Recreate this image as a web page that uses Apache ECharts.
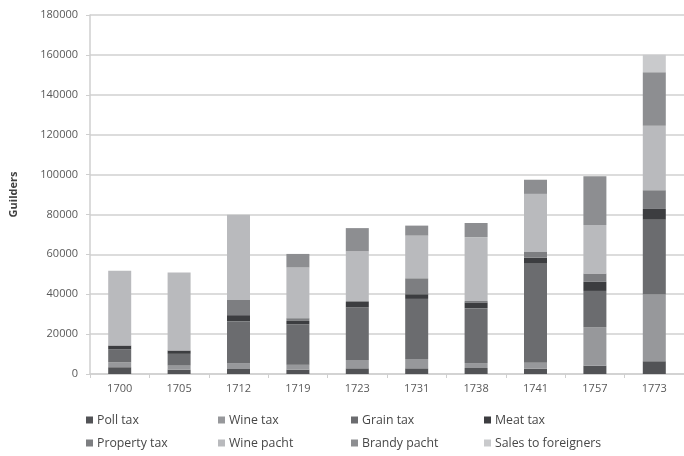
<!DOCTYPE html>
<html>
<head>
<meta charset="utf-8">
<title>Tax revenue by source</title>
<script src="https://cdn.jsdelivr.net/npm/echarts@6/dist/echarts.min.js"></script>
<style>
  html, body { margin: 0; padding: 0; background: #fff; }
  #chart { width: 684px; height: 456px; }
</style>
</head>
<body>
<div id="chart"></div>
<script>
// Years on the category axis
const years = ['1700', '1705', '1712', '1719', '1723', '1731', '1738', '1741', '1757', '1773'];

// Revenue per source, in guilders (stacked bottom to top in this order)
const pollTax      = [3400, 2200, 2500, 2200, 2850, 2850, 3000, 2700, 4200, 6400];
const wineTax      = [2500, 2000, 3000, 2400, 4200, 4700, 2500, 2900, 19300, 33450];
const grainTax     = [6400, 5900, 21000, 20300, 26300, 30100, 27400, 49700, 18150, 37500];
const meatTax      = [2000, 1700, 3000, 1700, 2800, 2350, 3000, 3000, 4550, 5400];
const propertyTax  = [0, 0, 7600, 1400, 500, 8000, 700, 2900, 4200, 9400];
const winePacht    = [37500, 39100, 42700, 25400, 24800, 21400, 32000, 29100, 24350, 32300];
const brandyPacht  = [0, 0, 0, 6800, 11700, 5000, 7100, 7100, 24400, 26900];
const salesForeign = [0, 0, 0, 0, 0, 0, 0, 0, 0, 8700];

// Value axis range
const yMin = 0, yMax = 180000, yStep = 20000;

const seriesDefs = [
  { name: 'Poll tax',            data: pollTax,      color: '#525356' },
  { name: 'Wine tax',            data: wineTax,      color: '#97989b' },
  { name: 'Grain tax',           data: grainTax,     color: '#6b6c6f' },
  { name: 'Meat tax',            data: meatTax,      color: '#3c3d40' },
  { name: 'Property tax',        data: propertyTax,  color: '#7d7e81' },
  { name: 'Wine pacht',          data: winePacht,    color: '#b9babd' },
  { name: 'Brandy pacht',        data: brandyPacht,  color: '#8d8e91' },
  { name: 'Sales to foreigners', data: salesForeign, color: '#c9cacc' }
];

const fontFamily = '"Open Sans", Lato, sans-serif';
const textColor = '#595959';

// Legend laid out in a 4-column, 2-row block under the plot
const legendCols = [86, 218, 351, 484];
const legendRows = [414, 437];
const legends = seriesDefs.map((s, i) => ({
  data: [s.name],
  left: legendCols[i % 4],
  top: legendRows[Math.floor(i / 4)],
  icon: 'rect',
  itemWidth: 7,
  itemHeight: 7,
  padding: 0,
  textStyle: { fontFamily, fontSize: 12.3, color: '#474747', padding: [0, 0, 0, -1] }
}));

const chart = echarts.init(document.getElementById('chart'));
chart.setOption({
  animation: false,
  color: seriesDefs.map(s => s.color),
  grid: { left: 88, right: 0, top: 15, bottom: 82, containLabel: false },
  legend: legends,
  xAxis: {
    type: 'category',
    data: years,
    axisLine: { lineStyle: { color: '#cfcfcf', width: 1.5 } },
    axisTick: { show: true, length: 4, lineStyle: { color: '#cfcfcf' } },
    axisLabel: { fontFamily, fontSize: 11, color: textColor, margin: 9 }
  },
  yAxis: {
    type: 'value',
    min: yMin,
    max: yMax,
    interval: yStep,
    name: 'Guilders',
    nameLocation: 'middle',
    nameGap: 71,
    nameTextStyle: { fontFamily, fontSize: 11, fontWeight: 'bold', color: '#404040' },
    axisLine: { show: true, lineStyle: { color: '#cfcfcf', width: 1.5 } },
    axisTick: { show: true, length: 4, lineStyle: { color: '#cfcfcf' } },
    axisLabel: { fontFamily, fontSize: 11, color: textColor, margin: 12, formatter: v => String(v) },
    splitLine: { lineStyle: { color: '#dcdcdc', width: 2 } }
  },
  series: seriesDefs.map(s => ({
    name: s.name,
    type: 'bar',
    stack: 'total',
    barWidth: 23,
    data: s.data,
    itemStyle: { color: s.color }
  }))
});
</script>
</body>
</html>
